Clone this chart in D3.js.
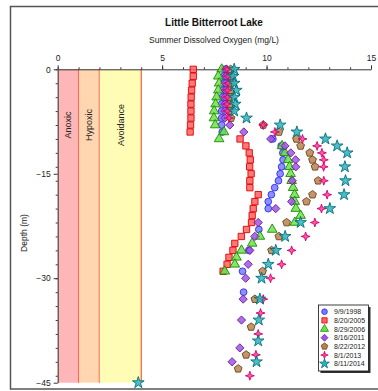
<!DOCTYPE html>
<html>
<head>
<meta charset="utf-8">
<script src="https://cdn.jsdelivr.net/npm/d3@7"></script>
<style>
  body { margin: 0; background: #fff; }
  svg { font-family: "Liberation Sans", Arial, sans-serif; }
</style>
</head>
<body>
<div id="chart"></div>
<script>
// --- data (depth in m, dissolved oxygen in mg/L) ---
const depth1998 = [0,1,2,3,4,5,6,7,8,9,10,11,12,13,14,15,16,17,18,19,20,23,26,29,32];
const do1998    = [7.97,7.95,7.93,7.91,7.88,7.85,7.85,7.85,7.85,7.88,10.3,10.7,10.78,10.79,10.72,10.65,10.57,10.39,10.23,10.08,10.08,9.63,9.15,8.85,8.9];

const depth2005 = [0,1,2,3,4,5,6,7,8,9,10,11,12,13,14,15,16,17,18,19,20,21,22,23,24,25,26,27,28,29];
const do2005    = [6.49,6.49,6.44,6.41,6.39,6.38,6.38,6.38,6.36,6.34,8.73,9.01,9.17,9.22,9.19,9.26,9.2,9.2,9.6,9.44,9.36,9.31,9.28,9.04,8.79,8.48,8.39,8.2,8.11,7.92];

const depth2006 = [0,1,2,3,4,5,6,7,8,9,10,11,12,13,14,15,16,17,18,19,20,21,22,23,24,25,26,27,28,29];
const do2006    = [7.85,7.69,7.73,7.69,7.61,7.56,7.49,7.48,7.54,7.96,7.73,10.74,10.88,11.03,11.1,11.15,11.2,11.27,11.34,11.35,11.4,11.63,11.35,10.27,9.68,9.31,8.8,8.56,8.48,8.0];

const depth2011 = [0,1,2,3,4,5,6,7,8,9,10,11,12,13,14,16,19,20,22,24,26,28,30,33,36,40,42];
const do2011    = [8.05,8.05,8.03,8.03,8.0,8.0,8.0,8.0,8.24,8.91,10.2,10.88,11.16,11.39,11.4,11.23,11.2,10.44,9.6,9.44,9.2,9.12,9.0,8.88,8.8,8.72,8.35];

const depth2012 = [0,1,2,3,4,5,6,7,8,9,10,11,12,13,14,16,18,19,22,24,26,29,33,37,41,43];
const do2012    = [8.28,8.3,8.3,8.28,8.25,8.25,8.25,8.3,9.84,10.59,11.43,11.63,12.07,12.2,12.32,12.47,12.2,11.91,10.96,10.59,10.24,9.81,9.44,9.26,9.02,8.64];

const depth2013 = [0,1,2,3,4,5,6,7,8,9,10,11,12,13,14,16,18,20,22,24,26,28,30,33,35,38,41,44];
const do2013    = [8.1,8.15,8.15,8.12,8.12,8.1,8.12,8.2,9.84,10.4,11.72,12.42,12.65,12.74,12.73,12.74,12.9,12.63,12.31,11.87,11.2,10.72,10.19,9.84,9.71,9.6,9.49,9.2];

const depth2014 = [0,1,2,3,4,5,6,7,8,9,10,11,12,14,16,18,20,22,24,26,28,30,33,36,39,42,45];
const do2014    = [8.45,8.4,8.45,8.55,8.45,8.5,8.45,9.04,10.65,11.45,12.82,13.38,13.86,13.75,13.78,13.71,13.03,11.63,10.89,10.44,10.08,9.76,9.68,9.63,9.6,9.52,3.86];

const seriesNames = ["9/9/1998","8/20/2005","8/29/2006","8/16/2011","8/22/2012","8/1/2013","8/11/2014"];

// oxygen zones (mg/L)
const zoneNames = ["Anoxic","Hypoxic","Avoidance"];
const zoneBounds = [0, 1, 2, 4];

const xMajorTicks = [0, 5, 10, 15];
const yMajorTicks = [0, -15, -30, -45];

// --- custom symbols ---
const symbolPentagon = {
  draw(ctx, size) {
    const r = Math.sqrt(size / 2.378);
    for (let i = 0; i < 5; i++) {
      const a = -Math.PI / 2 + i * 2 * Math.PI / 5;
      if (i === 0) ctx.moveTo(r * Math.cos(a), r * Math.sin(a));
      else ctx.lineTo(r * Math.cos(a), r * Math.sin(a));
    }
    ctx.closePath();
  }
};
const symbolStar4 = {
  draw(ctx, size) {
    const R = Math.sqrt(size) * 0.95, r = R * 0.35;
    for (let i = 0; i < 8; i++) {
      const a = -Math.PI / 2 + i * Math.PI / 4;
      const rr = i % 2 === 0 ? R : r;
      if (i === 0) ctx.moveTo(rr * Math.cos(a), rr * Math.sin(a));
      else ctx.lineTo(rr * Math.cos(a), rr * Math.sin(a));
    }
    ctx.closePath();
  }
};
const symbolDiamondSq = {
  draw(ctx, size) {
    const r = Math.sqrt(size / 2);
    ctx.moveTo(0, -r); ctx.lineTo(r, 0); ctx.lineTo(0, r); ctx.lineTo(-r, 0);
    ctx.closePath();
  }
};

const series = [
  { name: seriesNames[0], depth: depth1998, vals: do1998, sym: d3.symbolCircle,   size: 36, fill: "#7a7aff", stroke: "#2b2bee" },
  { name: seriesNames[1], depth: depth2005, vals: do2005, sym: d3.symbolSquare,   size: 40, fill: "#ff6262", stroke: "#e00000" },
  { name: seriesNames[2], depth: depth2006, vals: do2006, sym: d3.symbolTriangle, size: 40, fill: "#6ee04c", stroke: "#1a8a00" },
  { name: seriesNames[3], depth: depth2011, vals: do2011, sym: symbolDiamondSq,   size: 34, fill: "#a055e0", stroke: "#6a1aa0" },
  { name: seriesNames[4], depth: depth2012, vals: do2012, sym: symbolPentagon,    size: 40, fill: "#b8834e", stroke: "#6b4218" },
  { name: seriesNames[5], depth: depth2013, vals: do2013, sym: symbolStar4,       size: 22, fill: "#ff3d9a", stroke: "#d0006a" },
  { name: seriesNames[6], depth: depth2014, vals: do2014, sym: d3.symbolStar,     size: 42, fill: "#30b0c0", stroke: "#00707a" }
];

// --- layout ---
const W = 378, H = 391;
const svg = d3.select("#chart").append("svg").attr("width", W).attr("height", H);

const x = d3.scaleLinear().domain([0, 15]).range([57.7, 371]);
const y = d3.scaleLinear().domain([0, -45]).range([69.3, 382.7]);

// outer frame
svg.append("rect")
  .attr("x", 10.5).attr("y", 6.5).attr("width", 380).attr("height", 382.5)
  .attr("fill", "none").attr("stroke", "#555").attr("stroke-width", 1.5);

// titles
svg.append("text").attr("x", 214).attr("y", 26).attr("text-anchor", "middle")
  .style("font-size", "10px").style("font-weight", "bold").attr("fill", "#111")
  .text("Little Bitterroot Lake");
svg.append("text").attr("x", 214).attr("y", 43).attr("text-anchor", "middle")
  .style("font-size", "8.5px").attr("fill", "#222")
  .text("Summer Dissolved Oxygen (mg/L)");
svg.append("text")
  .attr("transform", "translate(27,233) rotate(-90)")
  .attr("text-anchor", "middle").style("font-size", "8.5px").attr("fill", "#222")
  .text("Depth (m)");

// zone bands
const zoneFills = ["#ffb6b6", "#ffd6b0", "#fffcb6"];
const zoneLines = ["#ff1a1a", "#ff1a1a", "#ff5a3a"];
const zones = svg.append("g").attr("class", "zones");
zoneNames.forEach((nm, i) => {
  zones.append("rect")
    .attr("x", x(zoneBounds[i])).attr("y", y(0))
    .attr("width", x(zoneBounds[i + 1]) - x(zoneBounds[i]))
    .attr("height", y(-45) - y(0))
    .attr("fill", zoneFills[i]);
  zones.append("line")
    .attr("x1", x(zoneBounds[i + 1])).attr("x2", x(zoneBounds[i + 1]))
    .attr("y1", y(0)).attr("y2", y(-45))
    .attr("stroke", zoneLines[i]).attr("stroke-width", 1.2);
  const cx = (x(zoneBounds[i]) + x(zoneBounds[i + 1])) / 2;
  zones.append("text")
    .attr("transform", `translate(${cx + 3.2},125) rotate(-90)`)
    .attr("text-anchor", "middle").style("font-size", "9px").attr("fill", "#222")
    .text(nm);
});

// axes
const axX = svg.append("g").attr("transform", `translate(0,${y(0)})`)
  .call(d3.axisTop(x).tickValues(xMajorTicks).tickSize(4).tickSizeOuter(0).tickPadding(4));
const axXm = svg.append("g").attr("transform", `translate(0,${y(0)})`)
  .call(d3.axisTop(x).ticks(15).tickSize(2).tickFormat(""));
const axY = svg.append("g").attr("transform", `translate(${x(0)},0)`)
  .call(d3.axisLeft(y).tickValues(yMajorTicks).tickSize(4).tickSizeOuter(0).tickPadding(3));
const axYm = svg.append("g").attr("transform", `translate(${x(0)},0)`)
  .call(d3.axisLeft(y).ticks(15).tickSize(2).tickFormat(""));
axXm.select(".domain").remove();
axYm.select(".domain").remove();
[axX, axXm, axY, axYm].forEach(a => {
  a.selectAll("path, line").attr("stroke", "#333").attr("stroke-width", 1);
  a.selectAll("text").style("font-size", "8.5px").attr("fill", "#222").style("font-family", "Liberation Sans, Arial, sans-serif");
});

// points
const pts = svg.append("g").attr("class", "points");
series.forEach(s => {
  const sym = d3.symbol().type(s.sym).size(s.size);
  pts.append("g").selectAll("path")
    .data(s.depth.map((d, i) => ({ depth: d, v: s.vals[i] })))
    .enter().append("path")
    .attr("d", sym)
    .attr("transform", d => `translate(${x(d.v)},${y(-d.depth)})`)
    .attr("fill", s.fill).attr("fill-opacity", 0.85)
    .attr("stroke", s.stroke).attr("stroke-width", 0.9);
});

// legend
const lg = svg.append("g").attr("transform", "translate(318.5,305)");
lg.append("rect").attr("x", 2).attr("y", 2).attr("width", 50).attr("height", 66).attr("fill", "#333");
lg.append("rect").attr("x", 0).attr("y", 0).attr("width", 50).attr("height", 66)
  .attr("fill", "#fff").attr("stroke", "#111").attr("stroke-width", 0.8);
series.forEach((s, i) => {
  const row = lg.append("g").attr("transform", `translate(0,${6.7 + i * 8.67})`);
  row.append("path").attr("d", d3.symbol().type(s.sym).size(s.size * 0.7))
    .attr("transform", "translate(6,0)")
    .attr("fill", s.fill).attr("stroke", s.stroke).attr("stroke-width", 0.8);
  row.append("text").attr("x", 15.5).attr("y", 2.5)
    .style("font-size", "7px").attr("fill", "#222").text(s.name);
});
</script>
</body>
</html>
